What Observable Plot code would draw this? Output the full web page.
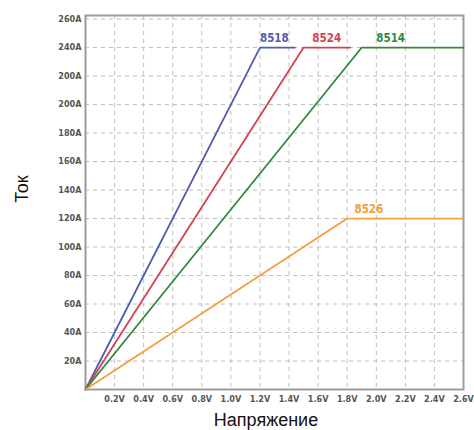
<!DOCTYPE html>
<html>
<head>
<meta charset="utf-8">
<script src="https://cdn.jsdelivr.net/npm/d3@7"></script>
<script src="https://cdn.jsdelivr.net/npm/@observablehq/plot@0.6"></script>
<style>
  html, body { margin: 0; padding: 0; background: #fff; }
  #wrap { position: relative; width: 474px; height: 430px; font-family: "Liberation Sans", Arial, sans-serif; }
  #ylab { position: absolute; left: 22px; top: 189px; transform: translate(-50%, -50%) rotate(-90deg); font-size: 18px; color: #111; }
  #xlab { position: absolute; left: 266px; top: 410px; transform: translateX(-50%); font-size: 18px; color: #111; white-space: nowrap; }
  svg text { font-family: "DejaVu Sans Condensed", "DejaVu Sans", sans-serif; }
</style>
</head>
<body>
<div id="wrap">
  <div id="chart"></div>
  <div id="ylab">Ток</div>
  <div id="xlab">Напряжение</div>
</div>
<script>
// Data
const seriesNames = ["8518", "8524", "8514", "8526"];
const seriesColors = ["#4f5db0", "#cf4450", "#2f8a3e", "#f2a03c"];
const voltage8518 = [0, 1.2, 1.44];
const current8518 = [0, 240, 240];
const voltage8524 = [0, 1.5, 1.82];
const current8524 = [0, 240, 240];
const voltage8514 = [0, 1.9, 2.6];
const current8514 = [0, 240, 240];
const voltage8526 = [0, 1.8, 2.6];
const current8526 = [0, 120, 120];
const labelVoltage = [1.2, 1.56, 2.0, 1.85];
const labelCurrent = [240, 240, 240, 120];
const yTickValues = [20, 40, 60, 80, 100, 120, 140, 160, 180, 200, 220, 240, 260];
const yTickLabels = ["20A", "40A", "60A", "80A", "100A", "120A", "140A", "160A", "180A", "200A", "200A", "240A", "260A"];
const xTickValues = [0.2, 0.4, 0.6, 0.8, 1.0, 1.2, 1.4, 1.6, 1.8, 2.0, 2.2, 2.4, 2.6];
const xTickLabels = ["0.2V", "0.4V", "0.6V", "0.8V", "1.0V", "1.2V", "1.4V", "1.6V", "1.8V", "2.0V", "2.2V", "2.4V", "2.6V"];

const allV = [voltage8518, voltage8524, voltage8514, voltage8526];
const allA = [current8518, current8524, current8514, current8526];
const points = [];
seriesNames.forEach((s, i) => allV[i].forEach((v, j) => points.push({series: s, v, a: allA[i][j]})));
const labels = seriesNames.map((s, i) => ({series: s, v: labelVoltage[i], a: labelCurrent[i]}));

const chart = Plot.plot({
  width: 474,
  height: 430,
  marginLeft: 85,
  marginRight: 11,
  marginTop: 15,
  marginBottom: 41,
  style: {background: "transparent", overflow: "visible"},
  x: {domain: [0, 2.6], ticks: xTickValues, tickFormat: d => xTickLabels[xTickValues.findIndex(t => Math.abs(t - d) < 1e-9)], tickSize: 0, tickPadding: 6, label: null},
  y: {domain: [0, 262.5], ticks: yTickValues, tickFormat: d => yTickLabels[yTickValues.indexOf(d)], tickSize: 0, tickPadding: 4, label: null},
  color: {domain: seriesNames, range: seriesColors},
  marks: [
    Plot.gridX(xTickValues, {stroke: "#bdbdbd", strokeOpacity: 1, strokeWidth: 1, strokeDasharray: "4,4"}),
    Plot.gridY(yTickValues, {stroke: "#bdbdbd", strokeOpacity: 1, strokeWidth: 1, strokeDasharray: "4,4"}),
    Plot.frame({stroke: "#9c9c9c", strokeWidth: 2}),
    Plot.line(points, {x: "v", y: "a", z: "series", stroke: "series", strokeWidth: 1.8}),
    Plot.text(labels, {x: "v", y: "a", text: "series", fill: "series", textAnchor: "start", dy: -9, fontSize: 11.5, fontWeight: "bold"})
  ]
});
chart.querySelectorAll("g[aria-label='x-axis tick label'] text, g[aria-label='y-axis tick label'] text").forEach(t => {
  t.setAttribute("fill", "#555");
  t.style.fontWeight = "bold";
  t.style.fontSize = "9px";
});
document.getElementById("chart").appendChild(chart);
</script>
</body>
</html>
